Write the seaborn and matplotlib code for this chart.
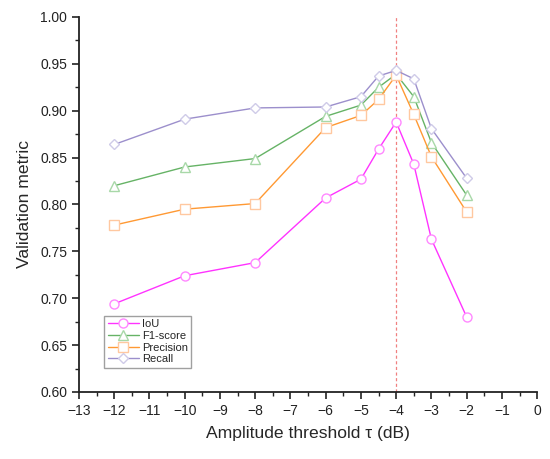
import numpy as np
import pandas as pd
import matplotlib
matplotlib.use("Agg")
import matplotlib.pyplot as plt
import seaborn as sns
from matplotlib.ticker import MultipleLocator

# ── Data ────────────────────────────────────────────────────
thresholds = [-12, -10, -8, -6, -5, -4.5, -4, -3.5, -3, -2]
iou       = [0.694, 0.724, 0.738, 0.807, 0.827, 0.859, 0.888, 0.843, 0.763, 0.680]
f1_score  = [0.820, 0.840, 0.849, 0.894, 0.906, 0.925, 0.939, 0.915, 0.866, 0.810]
precision = [0.778, 0.795, 0.801, 0.882, 0.895, 0.912, 0.938, 0.896, 0.851, 0.792]
recall    = [0.864, 0.891, 0.903, 0.904, 0.915, 0.937, 0.943, 0.934, 0.881, 0.828]

best_tau = -4

SERIES = [
    ("IoU",       iou,       "o", "#FF33FF", "#FF88FF"),
    ("F1-score",  f1_score,  "^", "#66B366", "#A8D8A8"),
    ("Precision", precision, "s", "#FF9933", "#FFC8A0"),
    ("Recall",    recall,    "D", "#9C8FCC", "#CFCBE8"),
]

sns.set_style("ticks")
plt.rcParams["font.family"] = ["Liberation Sans", "DejaVu Sans"]

fig = plt.figure(figsize=(5.5, 4.59), dpi=100)
ax = fig.add_axes([0.1436, 0.146, 0.833, 0.817])

for name, vals, mk, col, mcol in SERIES:
    df = pd.DataFrame({"tau": thresholds, "v": vals})
    sns.lineplot(data=df, x="tau", y="v", ax=ax, color=col, lw=1.0,
                 marker=mk, markersize=6.5 if mk != "D" else 5.5,
                 markerfacecolor="white", markeredgecolor=mcol,
                 markeredgewidth=1.0, label=name)

ax.axvline(best_tau, color="#F08080", lw=0.9, ls=(0, (2.5, 2)), zorder=0)

ax.set_xlim(-13, 0)
ax.set_ylim(0.60, 1.00)
ax.xaxis.set_major_locator(MultipleLocator(1))
ax.xaxis.set_minor_locator(MultipleLocator(0.5))
ax.yaxis.set_major_locator(MultipleLocator(0.05))
ax.yaxis.set_minor_locator(MultipleLocator(0.025))
ax.yaxis.set_major_formatter(matplotlib.ticker.FormatStrFormatter("%.2f"))
ax.xaxis.set_major_formatter(matplotlib.ticker.FuncFormatter(
    lambda v, p: f"{int(v)}".replace("-", "\u2212")))

ax.tick_params(which="major", direction="out", length=5, width=1.2,
               labelsize=10, colors="#222222")
ax.tick_params(which="minor", direction="out", length=3, width=1.0,
               colors="#222222")
for s in ["top", "right"]:
    ax.spines[s].set_visible(False)
for s in ["left", "bottom"]:
    ax.spines[s].set_linewidth(1.3)
    ax.spines[s].set_color("#222222")

ax.set_xlabel("Amplitude threshold \u03c4 (dB)", fontsize=12.6, labelpad=6)
ax.set_ylabel("Validation metric", fontsize=12.6, labelpad=6)

leg = ax.legend(loc="lower left", bbox_to_anchor=(0.055, 0.065), fontsize=8,
                frameon=True, fancybox=False, handlelength=2.8,
                borderpad=0.3, labelspacing=0.15, handletextpad=0.3,
                borderaxespad=0)
leg.get_frame().set_edgecolor("#888888")
leg.get_frame().set_linewidth(1.0)

fig.savefig("out.png", dpi=100)
